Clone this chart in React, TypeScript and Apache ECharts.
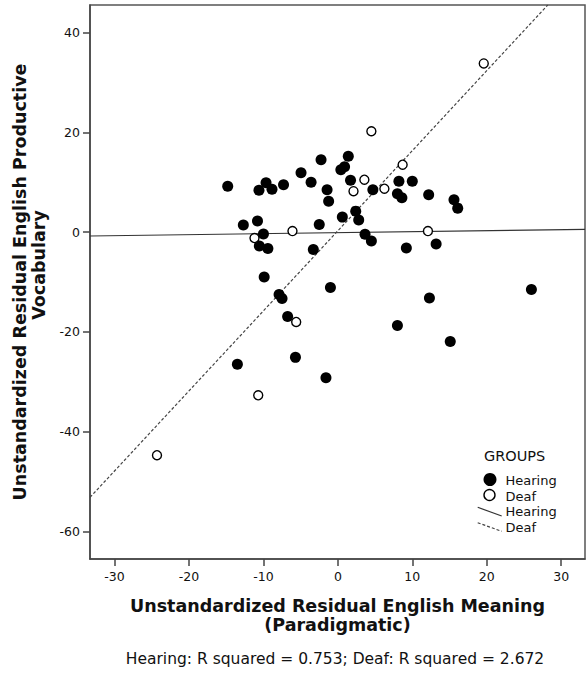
import React, { useEffect, useRef } from "react";
import * as echarts from "echarts";

const xTicks = [-30, -20, -10, 0, 10, 20, 30];
const yTicks = [-60, -40, -20, 0, 20, 40];

const hearingPoints: [number, number][] = [
  [-14.8, 9.2], [-9.65, 9.9], [-10.6, 8.4], [-8.85, 8.6], [-7.3, 9.5],
  [-4.95, 11.9], [-3.6, 10.0], [-2.26, 14.5], [-1.45, 8.5], [-1.24, 6.2],
  [-12.7, 1.4], [-10.8, 2.2], [-10.0, -0.4], [-2.5, 1.5], [0.6, 3.0],
  [-10.55, -2.8], [-9.4, -3.3], [-3.3, -3.5], [1.4, 15.2], [0.4, 12.5],
  [0.9, 13.1], [1.7, 10.4], [4.7, 8.5], [8.2, 10.2], [10.0, 10.2],
  [8.0, 7.7], [8.6, 6.9], [12.2, 7.5], [15.6, 6.5], [16.1, 4.8],
  [2.4, 4.2], [2.8, 2.4], [3.65, -0.45], [4.5, -1.8], [9.2, -3.2],
  [13.2, -2.4], [-9.9, -9.0], [-7.9, -12.5], [-7.5, -13.3], [-6.75, -16.9],
  [-1.0, -11.1], [-13.5, -26.5], [-5.7, -25.1], [-1.6, -29.2], [8.0, -18.7],
  [12.3, -13.2], [15.1, -21.9], [26.0, -11.5],
];

const deafPoints: [number, number][] = [
  [-11.2, -1.2], [-6.1, 0.2], [3.56, 10.5], [2.1, 8.2], [6.25, 8.7],
  [8.7, 13.5], [12.1, 0.2], [-5.6, -18.0], [-10.7, -32.7], [-24.3, -44.7],
  [19.6, 33.8], [4.5, 20.2],
];

const hearingFitLine: [number, number][] = [[-33.3, -0.78], [33.2, 0.56]];
const deafFitLine: [number, number][] = [[-33.3, -53.15], [28.2, 45.5]];

const FONT = "DejaVu Sans";
const TXT = "#111";

export default function App() {
  const ref = useRef<HTMLDivElement>(null);
  useEffect(() => {
    if (!ref.current) return;
    const chart = echarts.init(ref.current, null, { renderer: "svg" });
    chart.setOption({
      animation: false,
      backgroundColor: "#fff",
      textStyle: { fontFamily: FONT },
      grid: {
        left: 90, top: 5, right: 2, bottom: 118,
        show: true, borderColor: "#555", borderWidth: 1.5, backgroundColor: "#fff",
      },
      xAxis: {
        type: "value",
        min: -33.3, max: 33.2,
        name: "Unstandardized Residual English Meaning\n(Paradigmatic)",
        nameLocation: "middle",
        nameGap: 37,
        nameTextStyle: { fontFamily: FONT, fontSize: 17.5, fontWeight: "bold", color: "#111", lineHeight: 19 },
        axisLine: { show: true, onZero: false, lineStyle: { color: "#444", width: 1.5 } },
        axisTick: { show: true, customValues: xTicks, length: 7, lineStyle: { color: "#444", width: 1.5 } },
        axisLabel: { customValues: xTicks, fontSize: 12.5, color: TXT, margin: 11, fontFamily: FONT },
        splitLine: { show: false },
      },
      yAxis: {
        type: "value",
        min: -65.5, max: 45.5,
        name: "{a|Unstandardized Residual English Productive}\n{b|Vocabulary}",
        nameLocation: "middle",
        nameGap: 39,
        nameTextStyle: {
          fontFamily: FONT, fontSize: 17.5, fontWeight: "bold", color: "#111", lineHeight: 19,
          rich: {
            a: { fontFamily: FONT, fontSize: 17.5, fontWeight: "bold", color: "#111", lineHeight: 19 },
            b: { fontFamily: FONT, fontSize: 17.5, fontWeight: "bold", color: "#111", lineHeight: 19, padding: [0, 0, 0, 34] },
          },
        },
        axisLine: { show: true, onZero: false, lineStyle: { color: "#444", width: 1.5 } },
        axisTick: { show: true, customValues: yTicks, length: 7, lineStyle: { color: "#444", width: 1.5 } },
        axisLabel: { customValues: yTicks, fontSize: 12.5, color: TXT, margin: 10, fontFamily: FONT },
        splitLine: { show: false },
      },
      series: [
        {
          name: "Hearing fit",
          type: "line",
          data: hearingFitLine,
          symbol: "none",
          lineStyle: { color: "#333", width: 1.2 },
          z: 1,
        },
        {
          name: "Deaf fit",
          type: "line",
          data: deafFitLine,
          symbol: "none",
          lineStyle: { color: "#444", width: 1.2, type: [3, 2] },
          z: 1,
        },
        {
          name: "Hearing",
          type: "scatter",
          data: hearingPoints,
          symbol: "circle",
          symbolSize: 11,
          itemStyle: { color: "#000", opacity: 1 },
          z: 3,
        },
        {
          name: "Deaf",
          type: "scatter",
          data: deafPoints,
          symbol: "circle",
          symbolSize: 9,
          itemStyle: { color: "#fff", borderColor: "#000", borderWidth: 1.4, opacity: 1 },
          z: 4,
        },
      ],
      graphic: [
        { type: "text", x: 484, y: 456, style: { text: "GROUPS", fontFamily: FONT, fontSize: 14.5, fill: TXT, verticalAlign: "middle" } },
        { type: "circle", shape: { cx: 490, cy: 479.5, r: 6.5 }, style: { fill: "#000" } },
        { type: "text", x: 505.5, y: 480, style: { text: "Hearing", fontFamily: FONT, fontSize: 13, fill: TXT, verticalAlign: "middle" } },
        { type: "circle", shape: { cx: 489.5, cy: 495, r: 5.5 }, style: { fill: "#fff", stroke: "#000", lineWidth: 1.4 } },
        { type: "text", x: 505.5, y: 496, style: { text: "Deaf", fontFamily: FONT, fontSize: 13, fill: TXT, verticalAlign: "middle" } },
        { type: "line", shape: { x1: 477.7, y1: 507.3, x2: 501.7, y2: 516 }, style: { stroke: "#333", lineWidth: 1.2 } },
        { type: "text", x: 505.5, y: 511.7, style: { text: "Hearing", fontFamily: FONT, fontSize: 13, fill: TXT, verticalAlign: "middle" } },
        { type: "line", shape: { x1: 477.7, y1: 522.7, x2: 501.7, y2: 531.3 }, style: { stroke: "#444", lineWidth: 1.2, lineDash: [3, 2] } },
        { type: "text", x: 505.5, y: 527.7, style: { text: "Deaf", fontFamily: FONT, fontSize: 13, fill: TXT, verticalAlign: "middle" } },
        {
          type: "text", x: 335, y: 659,
          style: { text: "Hearing: R squared = 0.753; Deaf: R squared = 2.672", fontFamily: FONT, fontSize: 15.5, fill: TXT, align: "center", verticalAlign: "middle" },
        },
      ],
    });
    return () => chart.dispose();
  }, []);
  return <div ref={ref} style={{ position: "absolute", left: 0, top: 0, width: 587, height: 677 }} />;
}
